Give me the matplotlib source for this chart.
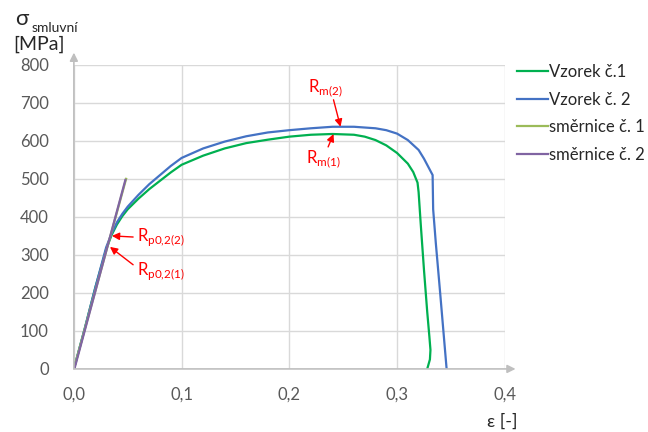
import numpy as np
import matplotlib.pyplot as plt

plt.rcParams['font.family'] = ['Lato', 'DejaVu Sans']

# Vzorek c.1 (green)
eps1 = [0, 0.01, 0.02, 0.03, 0.035, 0.04, 0.045, 0.05, 0.06, 0.07, 0.08, 0.09, 0.1, 0.12, 0.14,
        0.16, 0.18, 0.2, 0.22, 0.24, 0.26, 0.27, 0.28, 0.29, 0.30, 0.31, 0.315,
        0.319, 0.320, 0.322, 0.325, 0.328, 0.330, 0.331, 0.3305, 0.328]
sig1 = [0, 105, 215, 315, 352, 380, 402, 420, 448, 473, 495, 517, 537, 561, 580,
        594, 603, 611, 616, 618, 616, 611, 602, 588, 568, 540, 518,
        490, 465, 380, 260, 150, 85, 50, 25, 0]

# Vzorek c.2 (blue)
eps2 = [0, 0.01, 0.02, 0.03, 0.035, 0.04, 0.045, 0.05, 0.06, 0.07, 0.08, 0.09, 0.1, 0.12, 0.14,
        0.16, 0.18, 0.2, 0.22, 0.24, 0.26, 0.28, 0.29, 0.30, 0.31, 0.32, 0.325,
        0.333, 0.3335, 0.336, 0.340, 0.343, 0.346]
sig2 = [0, 105, 215, 320, 356, 386, 408, 427, 458, 486, 510, 534, 555, 580, 598,
        612, 622, 628, 633, 637, 637, 633, 628, 619, 602, 576, 553,
        510, 420, 330, 200, 100, 0]

# smernice (tangent lines)
eps_s1 = [0, 0.0485]
sig_s1 = [0, 500]
eps_s2 = [0.0005, 0.0478]
sig_s2 = [0, 497]

labels = ['Vzorek č.1', 'Vzorek č. 2', 'směrnice č. 1', 'směrnice č. 2']
colors = ['#00B050', '#4472C4', '#9BBB59', '#8064A2']

xticks = [0, 0.1, 0.2, 0.3, 0.4]
xtick_labels = ['0,0', '0,1', '0,2', '0,3', '0,4']
yticks = [0, 100, 200, 300, 400, 500, 600, 700, 800]

# annotations: label, arrow head, arrow tail, text position
ann_text = ['R$_{\\mathregular{m(2)}}$', 'R$_{\\mathregular{m(1)}}$',
            'R$_{\\mathregular{p0{,}2(2)}}$', 'R$_{\\mathregular{p0{,}2(1)}}$']
ann_head = [(0.2475, 637), (0.241, 618), (0.0353, 350), (0.0335, 321)]
ann_tail = [(0.241, 708), (0.236, 584), (0.055, 347), (0.055, 274)]
ann_pos = [(0.2335, 739), (0.2316, 550), (0.0586, 347), (0.0586, 258)]
ann_ha = ['center', 'center', 'left', 'left']

fig = plt.figure(figsize=(6.48, 4.32), dpi=100)
ax = fig.add_axes([0.114, 0.146, 0.665, 0.704])

ax.plot(eps1, sig1, color=colors[0], lw=1.6, label=labels[0])
ax.plot(eps2, sig2, color=colors[1], lw=1.6, label=labels[1])
ax.plot(eps_s1, sig_s1, color=colors[2], lw=1.6, label=labels[2])
ax.plot(eps_s2, sig_s2, color=colors[3], lw=1.6, label=labels[3])

ax.set_xlim(0, 0.4)
ax.set_ylim(0, 800)
ax.set_xticks(xticks)
ax.set_xticklabels(xtick_labels)
ax.set_yticks(yticks)
ax.tick_params(length=0, labelsize=12, colors='#595959')
ax.tick_params(axis='x', pad=13)
ax.tick_params(axis='y', pad=18)
ax.grid(True, color='#D9D9D9', lw=1)
ax.set_axisbelow(True)
for s in ax.spines.values():
    s.set_visible(False)

# axes with arrows
ax.annotate('', xy=(0, 1.04), xytext=(0, 0), xycoords='axes fraction',
            arrowprops=dict(arrowstyle='-|>', color='#BFBFBF', lw=1.2,
                            mutation_scale=12, shrinkA=0, shrinkB=0))
ax.annotate('', xy=(1.025, 0), xytext=(0, 0), xycoords='axes fraction',
            arrowprops=dict(arrowstyle='-|>', color='#BFBFBF', lw=1.2,
                            mutation_scale=12, shrinkA=0, shrinkB=0))

for t, h, tl, p, ha in zip(ann_text, ann_head, ann_tail, ann_pos, ann_ha):
    ax.annotate('', xy=h, xytext=tl,
                arrowprops=dict(arrowstyle='-|>', color='red', lw=1,
                                mutation_scale=11, shrinkA=0, shrinkB=0))
    ax.text(p[0], p[1], t, color='red', fontsize=12, ha=ha, va='center')

leg = ax.legend(loc='upper left', bbox_to_anchor=(1.012, 1.025), frameon=False,
                fontsize=12, handlelength=1.9, handletextpad=0.05, labelspacing=0.7,
                borderaxespad=0.0)
for txt in leg.get_texts():
    txt.set_color('#262626')

fig.text(0.023, 0.955, 'σ', fontsize=16, color='#262626', va='center')
fig.text(0.048, 0.935, 'smluvní', fontsize=10, color='#262626', va='center')
fig.text(0.021, 0.897, '[MPa]', fontsize=14, color='#262626', va='center')
fig.text(0.752, 0.025, 'ε [-]', fontsize=13, color='#262626', va='center')

fig.savefig('out.png', dpi=100)
